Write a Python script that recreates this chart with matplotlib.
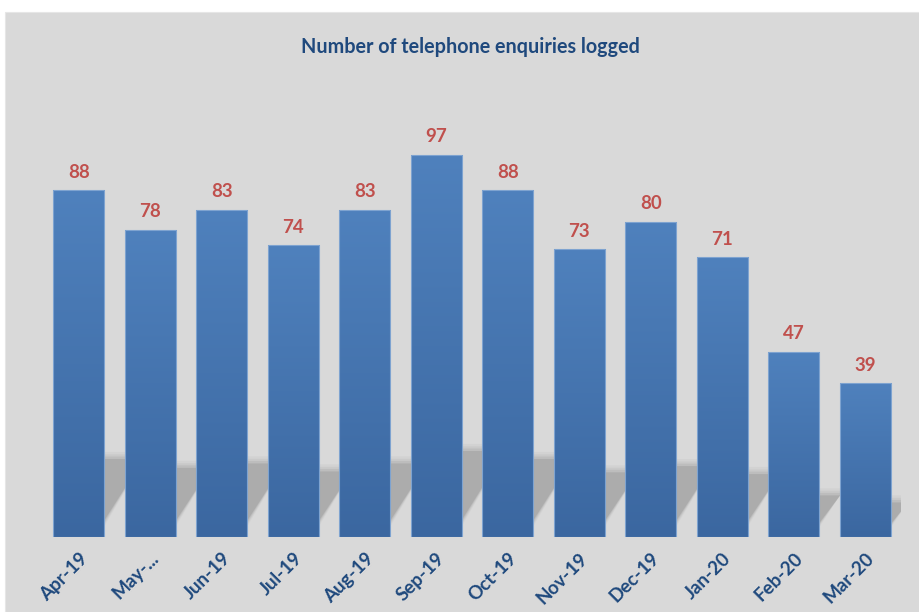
import matplotlib
matplotlib.use("Agg")
import matplotlib.pyplot as plt
from matplotlib.patches import Rectangle, Polygon
import numpy as np

months = ["Apr-19", "May-...", "Jun-19", "Jul-19", "Aug-19", "Sep-19",
          "Oct-19", "Nov-19", "Dec-19", "Jan-20", "Feb-20", "Mar-20"]
enquiries = [88, 78, 83, 74, 83, 97, 88, 73, 80, 71, 47, 39]

title = "Number of telephone enquiries logged"

TITLE_BLUE = "#1f497d"
LABEL_RED = "#c0504d"
BG = "#d9d9d9"


def plot() -> None:
    plt.rcParams["font.family"] = ["Lato", "DejaVu Sans"]
    fig = plt.figure(figsize=(9.2, 6.12), dpi=100, facecolor="white")

    # grey chart area (small white margin top/left like the screenshot)
    fig.patches.append(Rectangle((5 / 920, 0), 1, 600 / 612, transform=fig.transFigure,
                                 facecolor=BG, edgecolor="#e6e6e6", lw=0.8, zorder=-10))

    ax = fig.add_axes([43 / 920, 75 / 612, 858 / 920, 437 / 612])
    ax.set_facecolor("none")
    ax.set_xlim(-0.5, len(months) - 0.5)
    ax.set_ylim(0, 110.9)

    x = np.arange(len(months))
    bars = ax.bar(x, enquiries, width=0.72, facecolor="none",
                  edgecolor="#7ea3d0", linewidth=0.8, zorder=3)

    # soft perspective shadow behind bars (skewed up and to the right)
    for b, v in zip(bars, enquiries):
        x0, x1 = b.get_x(), b.get_x() + b.get_width()
        h = v * 0.225
        shift = -0.15
        dx = v * 0.0062
        for grow, a in [(2.0, 0.08), (1.3, 0.12), (0.7, 0.18), (0.0, 0.32)]:
            gx = grow * 0.03
            gy = grow * 0.9
            pts = [(x0 + 0.05, 0), (x1 + shift + gx, 0),
                   (x1 + dx + gx, h + gy), (x0 + dx, h + gy)]
            ax.add_patch(Polygon(pts, closed=True, facecolor="#8a8a8a",
                                 edgecolor="none", alpha=a, zorder=1))

    # vertical gradient inside each bar
    grad = np.linspace(0, 1, 256).reshape(-1, 1)
    cmap = matplotlib.colors.LinearSegmentedColormap.from_list(
        "bar", ["#3b67a0", "#4f81bd"])
    for b in bars:
        x0, x1 = b.get_x(), b.get_x() + b.get_width()
        im = ax.imshow(grad, cmap=cmap, origin="lower", aspect="auto",
                       extent=(x0, x1, 0, b.get_height()), zorder=2)
        im.set_clip_path(b)
    ax.set_xlim(-0.5, len(months) - 0.5)
    ax.set_ylim(0, 110.9)

    for b, v in zip(bars, enquiries):
        ax.annotate(str(v), (b.get_x() + b.get_width() / 2, v),
                    xytext=(0, 7), textcoords="offset points",
                    ha="center", va="bottom", color=LABEL_RED,
                    fontsize=13.5, fontweight="bold")

    ax.set_xticks(x)
    ax.set_xticklabels(months, rotation=45, ha="right", va="top",
                       rotation_mode="anchor", color=TITLE_BLUE,
                       fontsize=13.5, fontweight="bold")
    ax.tick_params(axis="x", length=0, pad=9)
    ax.set_yticks([])
    for s in ax.spines.values():
        s.set_visible(False)

    fig.text(470 / 920, 1 - 47 / 612, title, ha="center", va="center",
             color=TITLE_BLUE, fontsize=14.2, fontweight="bold")

    fig.savefig("out.png", dpi=100, facecolor="white")


if __name__ == "__main__":
    plot()
